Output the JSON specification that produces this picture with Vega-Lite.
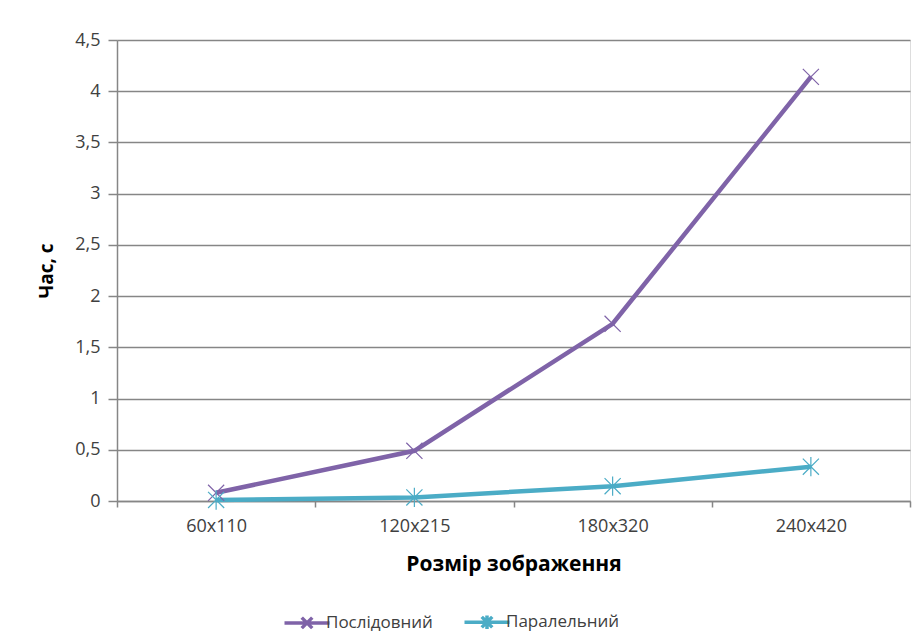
{
  "$schema": "https://vega.github.io/schema/vega-lite/v6.json",
  "width": 793,
  "height": 461,
  "autosize": "none",
  "padding": {"left": 117, "top": 40, "right": 8, "bottom": 134},
  "background": "white",
  "data": {
    "values": [
      {"size": "60x110", "series": "Послідовний", "time": 0.08},
      {"size": "120x215", "series": "Послідовний", "time": 0.49},
      {"size": "180x320", "series": "Послідовний", "time": 1.73},
      {"size": "240x420", "series": "Послідовний", "time": 4.14},
      {"size": "60x110", "series": "Паралельний", "time": 0.01},
      {"size": "120x215", "series": "Паралельний", "time": 0.035},
      {"size": "180x320", "series": "Паралельний", "time": 0.145},
      {"size": "240x420", "series": "Паралельний", "time": 0.335}
    ]
  },
  "encoding": {
    "x": {
      "field": "size", "type": "nominal", "sort": null,
      "scale": {"paddingInner": 0, "paddingOuter": 0},
      "axis": {
        "title": "Розмір зображення", "titleFont": "Open Sans", "titleFontSize": 21, "titleFontWeight": "bold",
        "titleColor": "#000", "titlePadding": 18,
        "labelAngle": 0, "labelFont": "Open Sans", "labelFontSize": 18, "labelColor": "#404040", "labelPadding": 10,
        "tickBand": "extent", "tickSize": 6, "tickColor": "#868686", "domainColor": "#868686", "domainWidth": 1.5, "tickWidth": 1.5,
        "grid": false
      }
    },
    "y": {
      "field": "time", "type": "quantitative",
      "scale": {"domain": [0, 4.5], "nice": false},
      "axis": {
        "title": "Час, с", "titleFont": "Open Sans", "titleFontSize": 19, "titleFontWeight": "bold", "titleColor": "#000", "titlePadding": 18,
        "values": [0, 0.5, 1, 1.5, 2, 2.5, 3, 3.5, 4, 4.5],
        "labelExpr": "replace(format(datum.value, '~g'), '.', ',')",
        "labelFont": "Open Sans", "labelFontSize": 18, "labelColor": "#404040", "labelPadding": 8,
        "tickSize": 9, "tickColor": "#868686", "tickWidth": 1.5, "domainColor": "#868686", "domainWidth": 1.5,
        "grid": true, "gridColor": "#868686", "gridWidth": 1.5
      }
    },
    "color": {
      "field": "series", "type": "nominal", "sort": ["Послідовний", "Паралельний"],
      "scale": {"domain": ["Послідовний", "Паралельний"], "range": ["#7F63A8", "#4BACC6"]},
      "legend": {
        "orient": "none", "legendX": 173, "legendY": 565, "direction": "horizontal", "title": null,
        "labelFont": "Open Sans", "labelFontSize": 17, "labelColor": "#404040",
        "symbolSize": 900, "symbolStrokeWidth": 3.5, "columnPadding": 24,
        "symbolType": "M-1.5,0L1.5,0",
        "labelOffset": 2,
        "encode": {
          "symbols": {
            "update": {
              "shape": {"signal": "datum.value === 'Послідовний' ? 'M-1.5,0L1.5,0M-0.35,-0.35L0.35,0.35M-0.35,0.35L0.35,-0.35' : 'M-1.5,0L1.5,0M-0.35,-0.35L0.35,0.35M-0.35,0.35L0.35,-0.35M0,-0.45L0,0.45'"},
              "fill": {"value": "transparent"}
            }
          }
        }
      }
    }
  },
  "layer": [
    {
      "mark": {"type": "line", "strokeWidth": 4.5}
    },
    {
      "transform": [{"filter": "datum.series === 'Послідовний'"}],
      "mark": {"type": "point", "filled": false, "strokeWidth": 1.2, "size": 260, "opacity": 1, "shape": "M-1,-1L1,1M-1,1L1,-1"}
    },
    {
      "transform": [{"filter": "datum.series === 'Паралельний'"}],
      "mark": {"type": "point", "filled": false, "strokeWidth": 1.2, "size": 260, "opacity": 1, "shape": "M-1,-1L1,1M-1,1L1,-1M0,-1.2L0,1.2"}
    }
  ]
}
